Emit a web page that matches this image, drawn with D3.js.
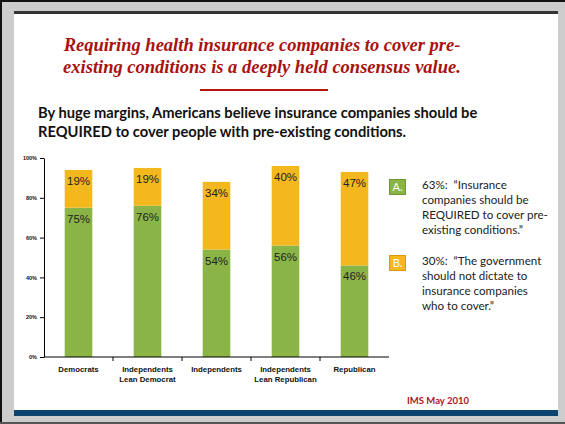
<!DOCTYPE html>
<html>
<head>
<meta charset="utf-8">
<script src="https://cdn.jsdelivr.net/npm/d3@7"></script>
<style>
  html, body { margin: 0; padding: 0; background: #fff; }
  svg { display: block; }
  text { white-space: pre; }
</style>
</head>
<body>
<svg id="chart" width="565" height="424"></svg>
<script>
// Survey groups and the share of each answer
const categories = [
  ["Democrats"],
  ["Independents", "Lean Democrat"],
  ["Independents"],
  ["Independents", "Lean Republican"],
  ["Republican"]
];
const requiredShare = [75, 76, 54, 56, 46];   // A: should be required
const notDictateShare = [19, 19, 34, 40, 47]; // B: government should not dictate
const yTicks = [0, 20, 40, 60, 80, 100];

const titleLines = [
  "Requiring health insurance companies to cover pre-",
  "existing conditions is a deeply held consensus value."
];
const subtitleLines = [
  "By huge margins, Americans believe insurance companies should be",
  "REQUIRED to cover people with pre-existing conditions."
];
const legendItems = [
  { key: "A.", lines: ["63%:  \u201cInsurance", "companies should be", "REQUIRED to cover pre-", "existing conditions.\u201d"] },
  { key: "B.", lines: ["30%:  \u201cThe government", "should not dictate to", "insurance companies", "who to cover.\u201d"] }
];

const GREEN = "#8ab546", ORANGE = "#f3b81e";
const svg = d3.select("#chart");

// Slide frame
svg.append("rect").attr("x", 0).attr("y", 0).attr("width", 565).attr("height", 424).attr("fill", "#cccccc");
svg.append("rect").attr("x", 0).attr("y", 0).attr("width", 2).attr("height", 424).attr("fill", "#111");
svg.append("rect").attr("x", 0).attr("y", 0).attr("width", 565).attr("height", 2).attr("fill", "#111");
svg.append("rect").attr("x", 0).attr("y", 422).attr("width", 565).attr("height", 2).attr("fill", "#555");
svg.append("rect").attr("x", 14).attr("y", 11).attr("width", 544).attr("height", 405).attr("fill", "#fff");
svg.append("rect").attr("x", 14).attr("y", 11).attr("width", 544).attr("height", 3).attr("fill", "#333");
svg.append("rect").attr("x", 14).attr("y", 410).attr("width", 544).attr("height", 6).attr("fill", "#0b4470");

// Headline
svg.append("g").selectAll("text").data(titleLines).join("text")
  .attr("x", 262).attr("y", (d, i) => 51 + i * 22)
  .attr("text-anchor", "middle")
  .attr("font-family", "'Liberation Serif', 'DejaVu Serif', serif")
  .attr("font-style", "italic").attr("font-weight", "bold")
  .attr("font-size", 18.5).attr("fill", "#a8120f")
  .text(d => d);
svg.append("rect").attr("x", 200).attr("y", 89).attr("width", 128).attr("height", 2).attr("fill", "#b3150f");

// Sub-headline
svg.append("g").selectAll("text").data(subtitleLines).join("text")
  .attr("x", 38).attr("y", (d, i) => 118 + i * 19)
  .attr("font-family", "Lato, 'Open Sans', sans-serif")
  .attr("font-weight", "bold").attr("font-size", 14.7).attr("fill", "#111")
  .text(d => d);

// Scales
const x = d3.scaleBand().domain(d3.range(categories.length)).range([44, 389]).paddingInner(0.6).paddingOuter(0.3);
const y = d3.scaleLinear().domain([0, 100]).range([357, 158]);

// Bars
const bars = svg.append("g");
categories.forEach((c, i) => {
  const a = requiredShare[i], b = notDictateShare[i];
  bars.append("rect").attr("x", x(i)).attr("width", x.bandwidth())
    .attr("y", y(a)).attr("height", y(0) - y(a)).attr("fill", GREEN);
  bars.append("rect").attr("x", x(i)).attr("width", x.bandwidth())
    .attr("y", y(a + b)).attr("height", y(a) - y(a + b)).attr("fill", ORANGE);
  bars.append("text").attr("x", x(i) + x.bandwidth() / 2).attr("y", y(a) + 15)
    .attr("text-anchor", "middle").attr("font-family", "Arial, 'Liberation Sans', sans-serif")
    .attr("font-size", 11.5).attr("fill", "#222").text(a + "%");
  bars.append("text").attr("x", x(i) + x.bandwidth() / 2).attr("y", y(a + b) + 15)
    .attr("text-anchor", "middle").attr("font-family", "Arial, 'Liberation Sans', sans-serif")
    .attr("font-size", 11.5).attr("fill", "#222").text(b + "%");
});

// Y axis
const yAxis = svg.append("g").attr("transform", "translate(44,0)")
  .call(d3.axisLeft(y).tickValues(yTicks).tickFormat(d => d + "%").tickSize(4).tickSizeOuter(0));
yAxis.select(".domain").attr("stroke", "#000");
yAxis.selectAll(".tick line").attr("stroke", "#000");
yAxis.selectAll(".tick text").attr("font-family", "Arial, 'Liberation Sans', sans-serif")
  .attr("font-size", 5.5).attr("font-weight", "bold").attr("fill", "#111").attr("x", -7);

// X axis: tick marks sit on the boundaries between groups
const xAxisG = svg.append("g");
xAxisG.append("line").attr("x1", 44).attr("x2", 389).attr("y1", y(0)).attr("y2", y(0)).attr("stroke", "#000");
d3.range(1, categories.length).forEach(i => {
  const bx = x(i) - x.step() * x.paddingInner() / 2;
  xAxisG.append("line").attr("x1", bx).attr("x2", bx).attr("y1", y(0)).attr("y2", y(0) + 4).attr("stroke", "#000");
});
categories.forEach((lines, i) => {
  const t = xAxisG.append("text").attr("text-anchor", "middle")
    .attr("font-family", "Arial, 'Liberation Sans', sans-serif")
    .attr("font-size", 7.8).attr("font-weight", "bold").attr("fill", "#111");
  lines.forEach((ln, j) => {
    t.append("tspan").attr("x", x(i) + x.bandwidth() / 2).attr("y", 372 + j * 10).text(ln);
  });
});

// Legend
const legend = svg.append("g");
legendItems.forEach((item, k) => {
  const top = k === 0 ? 179 : 255;
  legend.append("rect").attr("x", 389.5).attr("y", top + 0.5).attr("width", 16).attr("height", 15)
    .attr("fill", k === 0 ? GREEN : ORANGE).attr("stroke", k === 0 ? "#6f9636" : "#d99a12");
  legend.append("text").attr("x", 397.5).attr("y", top + 12).attr("text-anchor", "middle")
    .attr("font-family", "Lato, 'Open Sans', sans-serif").attr("font-size", 11).attr("fill", "#fff")
    .text(item.key);
  legend.append("g").selectAll("text").data(item.lines).join("text")
    .attr("x", 422).attr("y", (d, j) => top + 10 + j * 15)
    .attr("font-family", "Lato, 'Open Sans', sans-serif").attr("font-size", 11.6).attr("fill", "#222")
    .text(d => d);
});

// Source note
svg.append("text").attr("x", 407).attr("y", 404)
  .attr("font-family", "Lato, 'Open Sans', sans-serif").attr("font-weight", "bold")
  .attr("font-size", 9.5).attr("fill", "#a3192a").text("IMS May 2010");
</script>
</body>
</html>
